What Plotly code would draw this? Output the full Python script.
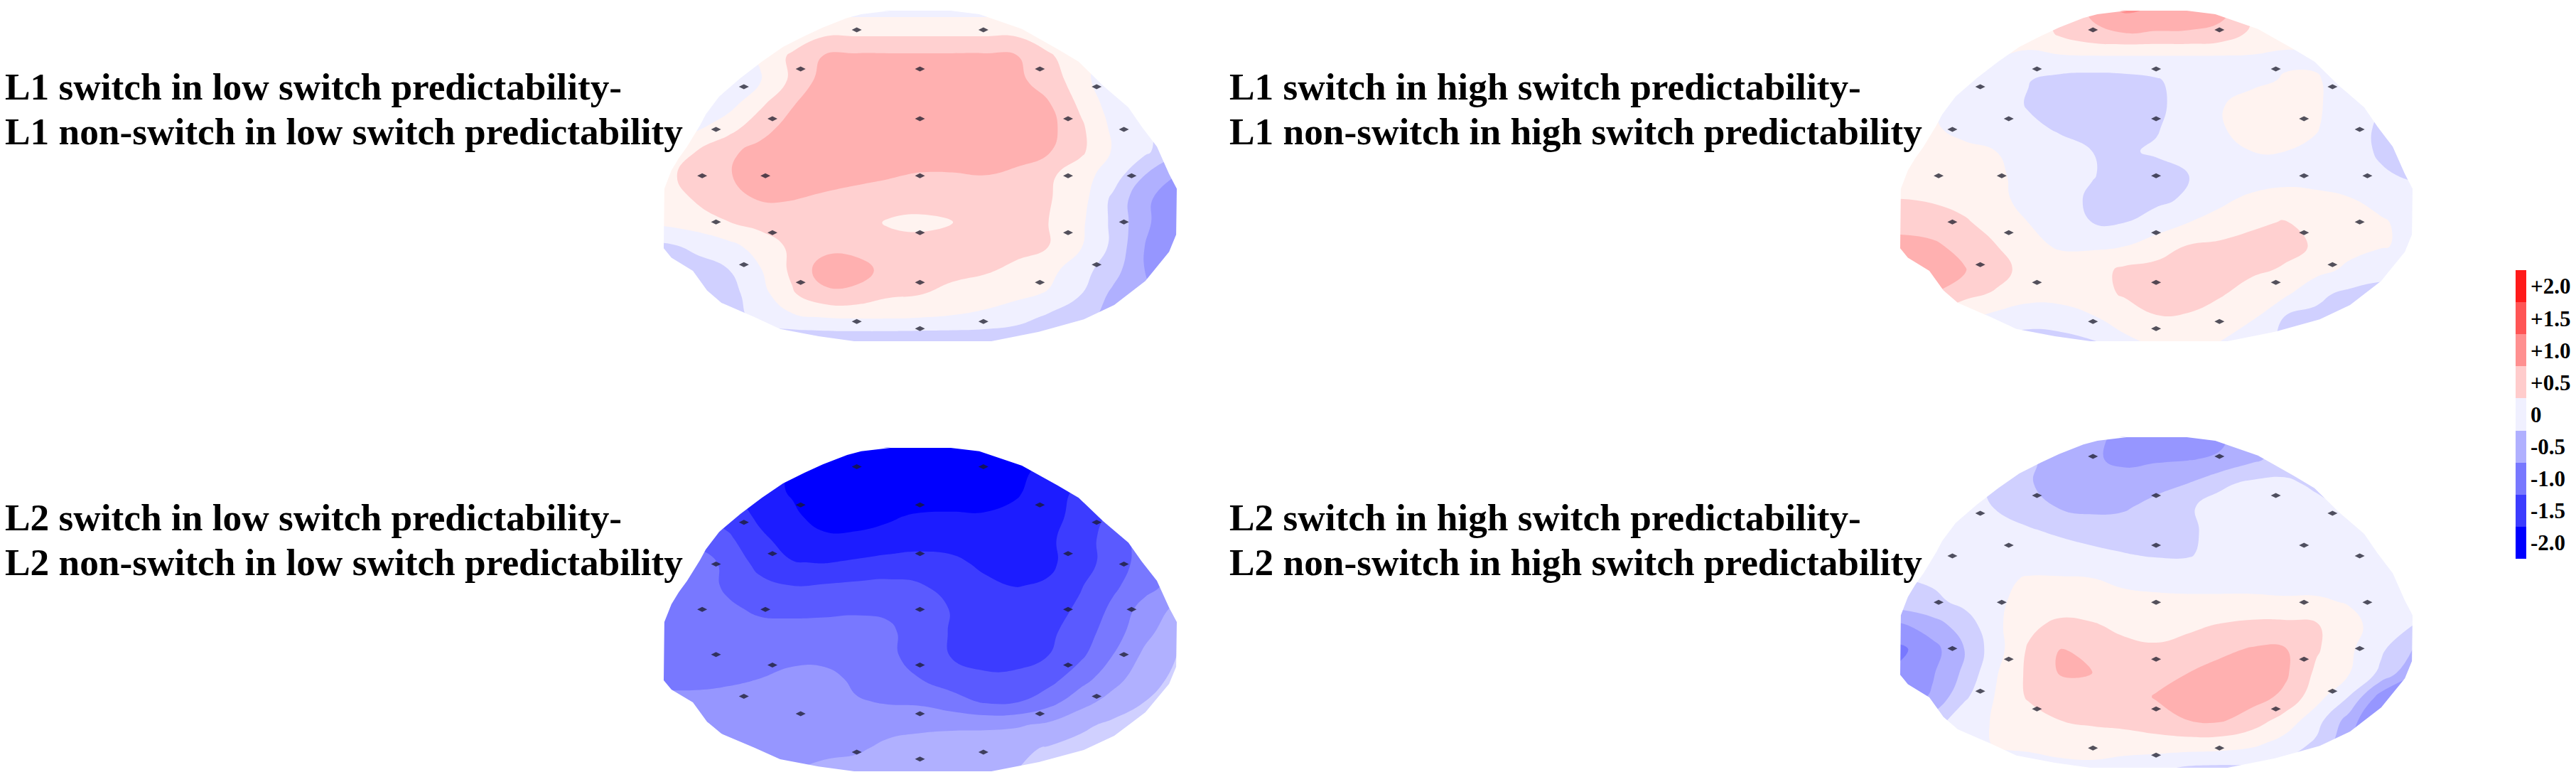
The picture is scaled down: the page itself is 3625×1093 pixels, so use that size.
import plotly.graph_objects as go

# scalp values, rows top to bottom, 17 columns across the head
low_l1 = [
    [-.1, -.1, -.1, -.1, -.1, -.1, -.1, -.1, -.1, -.1, -.1, -.1, -.1, -.1, -.1, -.1, -.1],
    [-.1, -.1, -.1, -.1, .05, .2, .2, .2, .2, .2, .2, .2, .05, -.1, -.1, -.2, -.2],
    [-.1, -.1, -.1, .02, .3, .52, .55, .55, .55, .55, .55, .52, .3, .05, -.1, -.2, -.3],
    [-.15, -.15, -.15, -.02, .3, .6, .65, .65, .65, .65, .65, .55, .4, .1, -.2, -.35, -.4],
    [-.15, -.15, -.1, .2, .48, .65, .65, .65, .65, .65, .65, .65, .52, .2, -.12, -.35, -.5],
    [-.05, -.05, .15, .4, .6, .65, .65, .65, .65, .65, .65, .65, .58, .3, -.05, -.2, -.45],
    [0, .25, .45, .58, .65, .65, .65, .65, .65, .65, .65, .65, .52, .3, -.02, -.2, -.45],
    [.2, .32, .48, .62, .62, .6, .56, .52, .48, .48, .5, .42, .3, .1, -.12, -.5, -.75],
    [.15, .27, .4, .52, .51, .46, .42, .4, .38, .38, .36, .35, .27, .1, -.3, -.7, -.9],
    [.05, .12, .24, .33, .36, .36, .38, .22, .18, .24, .35, .33, .25, .05, -.3, -.7, -.95],
    [-.3, -.2, -.08, .1, .3, .42, .42, .38, .36, .38, .36, .32, .25, .02, -.3, -.75, -1.0],
    [-.4, -.35, -.26, -.02, .3, .62, .6, .42, .36, .32, .28, .2, .08, -.15, -.4, -.75, -1.0],
    [-.5, -.45, -.35, -.1, .22, .44, .44, .3, .26, .18, .12, .06, -.02, -.24, -.55, -.7, -.9],
    [-.5, -.45, -.4, -.15, -.05, 0, .02, .02, 0, -.02, -.06, -.15, -.3, -.4, -.6, -.7, -.8],
    [-.5, -.5, -.45, -.45, -.45, -.45, -.45, -.45, -.45, -.45, -.45, -.45, -.45, -.5, -.6, -.7, -.8],
]
high_l1 = [
    [.1, .1, .1, .1, .1, .3, .55, .8, .72, .65, .6, .3, .1, .1, .1, .1, .1],
    [.1, .1, .1, .05, .05, .3, .45, .5, .48, .48, .42, .2, .05, .05, .05, .05, .05],
    [0, 0, 0, 0, -.02, -.03, -.02, -.02, -.02, -.02, -.02, -.02, -.02, -.02, -.05, -.05, -.05],
    [0, 0, -.02, -.1, -.24, -.33, -.36, -.34, -.28, -.12, -.08, -.03, .01, .01, -.05, -.1, -.15],
    [0, 0, -.02, -.12, -.27, -.35, -.38, -.36, -.3, -.15, -.01, .05, .06, .02, -.08, -.2, -.2],
    [.02, .02, -.05, -.1, -.2, -.28, -.33, -.32, -.27, -.12, -.01, .05, .06, .01, -.1, -.3, -.3],
    [.05, .05, .04, 0, -.08, -.17, -.25, -.28, -.22, -.1, -.02, 0, 0, -.03, -.08, -.3, -.3],
    [.08, .08, .07, .03, -.06, -.15, -.24, -.32, -.34, -.26, -.1, -.08, -.06, -.08, -.1, -.2, -.3],
    [.25, .22, .12, .04, -.05, -.18, -.28, -.34, -.33, -.2, -.03, .03, .06, .05, .01, -.05, -.1],
    [.45, .38, .3, .1, 0, -.1, -.25, -.25, -.1, 0, .05, .2, .27, .15, .08, .02, -.05],
    [.55, .55, .42, .26, .05, -.02, -.03, 0, .1, .27, .32, .35, .33, .22, .08, .02, -.05],
    [.65, .65, .52, .35, .15, .1, .15, .3, .35, .36, .35, .3, .22, .08, -.05, -.2, -.2],
    [.6, .5, .32, .22, .1, .08, .15, .28, .33, .33, .28, .12, .05, -.2, -.3, -.3, -.3],
    [.3, .2, .05, -.08, -.15, -.1, -.02, .1, .24, .23, .1, .02, -.26, -.3, -.3, -.3, -.3],
    [.1, 0, -.2, -.3, -.35, -.35, -.28, -.05, .05, .05, 0, -.1, -.3, -.4, -.4, -.4, -.4],
]
low_l2 = [
    [-2.3, -2.3, -2.3, -2.3, -2.3, -2.3, -2.3, -2.3, -2.3, -2.3, -2.3, -2.3, -2.3, -2.3, -2.3, -2.3, -2.3],
    [-1.9, -1.9, -1.9, -1.95, -2.03, -2.3, -2.3, -2.3, -2.3, -2.3, -2.3, -2.1, -1.9, -1.8, -1.7, -1.6, -1.5],
    [-1.6, -1.6, -1.7, -1.9, -2.02, -2.25, -2.3, -2.3, -2.3, -2.3, -2.25, -2.03, -1.85, -1.7, -1.6, -1.4, -1.3],
    [-1.4, -1.5, -1.6, -1.8, -1.95, -2.1, -2.15, -2.05, -1.95, -1.93, -1.95, -1.92, -1.85, -1.65, -1.45, -1.2, -1.1],
    [-1.2, -1.3, -1.45, -1.7, -1.85, -1.95, -1.92, -1.88, -1.85, -1.85, -1.88, -1.9, -1.8, -1.6, -1.4, -1.15, -1.0],
    [-1.0, -1.15, -1.3, -1.6, -1.74, -1.76, -1.72, -1.68, -1.66, -1.7, -1.8, -1.85, -1.8, -1.62, -1.38, -1.15, -.95],
    [-1.0, -1.1, -1.3, -1.42, -1.5, -1.48, -1.45, -1.43, -1.48, -1.6, -1.7, -1.76, -1.72, -1.52, -1.3, -1.1, -.9],
    [-1.05, -1.12, -1.2, -1.3, -1.32, -1.32, -1.3, -1.3, -1.35, -1.52, -1.6, -1.65, -1.62, -1.45, -1.2, -.9, -.7],
    [-1.05, -1.1, -1.12, -1.15, -1.15, -1.13, -1.12, -1.2, -1.38, -1.52, -1.62, -1.62, -1.55, -1.38, -1.12, -.82, -.6],
    [-1.05, -1.05, -1.05, -1.05, -1.08, -1.08, -1.1, -1.2, -1.35, -1.52, -1.6, -1.58, -1.5, -1.3, -1.0, -.7, -.5],
    [-1.05, -1.05, -1.05, -1.0, -.92, -.92, -1.05, -1.15, -1.25, -1.38, -1.45, -1.45, -1.35, -1.1, -.85, -.6, -.45],
    [-.95, -.95, -.9, -.87, -.85, -.85, -.98, -1.02, -1.04, -1.15, -1.28, -1.27, -1.1, -.85, -.65, -.5, -.4],
    [-.85, -.85, -.85, -.85, -.85, -.85, -.85, -.85, -.82, -.8, -.8, -.78, -.7, -.55, -.45, -.35, -.3],
    [-.85, -.85, -.85, -.82, -.8, -.8, -.8, -.68, -.62, -.6, -.58, -.55, -.48, -.42, -.35, -.3, -.3],
    [-.85, -.85, -.85, -.8, -.75, -.7, -.62, -.6, -.6, -.6, -.55, -.5, -.45, -.4, -.35, -.3, -.3],
]
high_l2 = [
    [-.3, -.3, -.3, -.4, -.5, -.6, -.7, -.8, -.85, -.85, -.8, -.6, -.5, -.4, -.3, -.3, -.3],
    [-.3, -.3, -.3, -.35, -.45, -.62, -.72, -.8, -.78, -.76, -.72, -.55, -.4, -.35, -.3, -.3, -.3],
    [-.2, -.2, -.2, -.3, -.48, -.6, -.66, -.65, -.58, -.5, -.3, -.2, -.2, -.3, -.35, -.35, -.3],
    [-.2, -.2, -.2, -.26, -.4, -.52, -.56, -.53, -.42, -.28, -.15, -.12, -.12, -.18, -.28, -.3, -.2],
    [-.15, -.15, -.12, -.15, -.22, -.3, -.37, -.38, -.38, -.3, -.15, -.1, -.1, -.1, -.1, -.1, -.1],
    [-.15, -.12, -.1, -.1, -.1, -.12, -.18, -.24, -.28, -.28, -.12, -.08, -.08, -.08, -.08, -.08, -.08],
    [-.25, -.2, -.1, -.03, .01, .01, 0, -.04, -.06, -.06, -.06, -.06, -.06, -.06, -.06, -.06, -.06],
    [-.35, -.32, -.18, -.02, .04, .08, .08, .05, .04, .03, .03, .03, .02, .02, -.01, -.08, -.1],
    [-.8, -.6, -.4, -.05, .18, .33, .28, .18, .12, .2, .27, .32, .32, .28, .05, -.06, -.25],
    [-1.05, -.85, -.5, -.1, .28, .5, .42, .33, .3, .35, .45, .52, .52, .28, .05, -.2, -.5],
    [-.95, -.78, -.45, -.02, .3, .52, .5, .33, .4, .5, .58, .6, .55, .2, .02, -.3, -.7],
    [-.9, -.72, -.3, .02, .28, .36, .36, .38, .52, .6, .6, .6, .45, .1, -.25, -.85, -1.1],
    [-.6, -.4, -.08, .02, .13, .25, .3, .33, .4, .5, .53, .38, .15, -.15, -.6, -1.1, -1.2],
    [-.3, -.2, -.1, .02, .05, .07, .1, .12, .14, .14, .12, .05, -.1, -.3, -.7, -1.1, -1.2],
    [-.2, -.2, -.15, -.1, -.1, -.05, -.05, -.12, -.2, -.28, -.3, -.3, -.35, -.5, -.7, -1.0, -1.1],
]

# head outline in grid units (column, row), left side going down then right side going up
head_col = [7.07, 6.16, 5.72, 4.96, 4.39, 3.72, 3.06, 2.39, 1.73, 1.31, 1.13, .73, .47, .24, .02, 0, .24, .91, 1.35,
            1.8, 2.84, 3.63, 4.83, 5.94, 10.22, 11.7, 13.1, 14.05, 15.02, 15.76, 15.98, 16, 15.76, 15.38, 14.91,
            14.49, 13.7, 12.94, 12.28, 11.17, 9.84, 8.95, 7.07]
head_row = [.06, .21, .37, .77, 1.13, 1.59, 2.21, 2.91, 3.68, 4.44, 4.9, 5.79, 6.28, 6.8, 7.57, 10.08, 10.48, 11.03, 11.86,
            12.38, 12.99, 13.48, 13.79, 14, 14, 13.6, 13.08, 12.47, 11.46, 10.23, 9.5, 7.57, 6.95, 5.79, 4.96,
            4.14, 3.22, 2.21, 1.68, .83, .21, .06, .06]

# electrode sites, same montage on every head
elec_col = [6.02, 9.97, 4.27, 7.99, 11.73, 2.5, 13.5, 3.39, 7.99, 12.61, 1.63, 14.35, 1.2, 3.17, 7.99, 12.61, 14.59,
            1.63, 14.35, 3.39, 7.99, 12.61, 2.5, 13.5, 4.27, 7.99, 11.73, 6.02, 9.97, 7.99]
elec_row = [.87, .87, 2.52, 2.52, 2.52, 3.27, 3.27, 4.62, 4.62, 4.62, 5.07, 5.07, 7.02, 7.02, 7.02, 7.02, 7.02,
            8.97, 8.97, 9.42, 9.42, 9.42, 10.77, 10.77, 11.52, 11.52, 11.52, 13.17, 13.17, 13.47]

band_colors = ["#0000ff", "#1c1cff", "#3c3cff", "#5a5aff", "#7878ff", "#9696ff", "#b0b0ff", "#d0d0ff", "#f0f0ff",
               "#fff3f0", "#ffd0d0", "#ffb0b0", "#ff9090", "#ff7070", "#ff5555", "#ff3838", "#ff1a1a", "#ff0000"]

legend_labels = ["+2.0", "+1.5", "+1.0", "+0.5", "0", "-0.5", "-1.0", "-1.5", "-2.0"]
legend_colors = ["#ff1a1a", "#ff5555", "#ff9090", "#ffcccc", "#f0f0ff", "#b0b0ff", "#7878ff", "#3c3cff", "#0000ff"]

title_lines = [
    "L1 switch in low switch predictability-", "L1 non-switch in low switch predictability",
    "L1 switch in high switch predictability-", "L1 non-switch in high switch predictability",
    "L2 switch in low switch predictability-", "L2 non-switch in low switch predictability",
    "L2 switch in high switch predictability-", "L2 non-switch in high switch predictability",
]

W, H = 3625, 1093
# pixel boxes of the heads: left, right, top, bottom
boxes = [(934, 1656, 13, 480), (2674, 3395, 13, 480), (934, 1656, 628, 1085), (2674, 3395, 613, 1080)]
title_x = [5, 5, 1728, 1728, 5, 5, 1728, 1728]
title_y = [122, 186, 122, 186, 728, 791, 728, 791]

n = len(band_colors)
scale = []
for i, c in enumerate(band_colors):
    scale += [[i / n, c], [(i + 1) / n, c]]

fig = go.Figure()
layout = {}
for k, (z, box) in enumerate(zip([low_l1, high_l1, low_l2, high_l2], boxes)):
    sx = "" if k == 0 else str(k + 1)
    xa, ya = "x" + sx, "y" + sx
    fig.add_trace(go.Contour(z=z, xaxis=xa, yaxis=ya, colorscale=scale, showscale=False, hoverinfo="skip",
                             line=dict(width=0, smoothing=1.3),
                             contours=dict(coloring="fill", start=-2, end=2, size=.25)))
    # white everywhere outside the head outline
    mask_x = [-1, 17, 17, -1, -1] + head_col + [-1]
    mask_y = [-1, -1, 15, 15, -1] + head_row + [-1]
    fig.add_trace(go.Scatter(x=mask_x, y=mask_y, xaxis=xa, yaxis=ya, mode="lines", line_width=0,
                             fill="toself", fillcolor="white", hoverinfo="skip"))
    fig.add_trace(go.Scatter(x=elec_col, y=elec_row, xaxis=xa, yaxis=ya, mode="markers", hoverinfo="skip",
                             marker=dict(color="#1a1a2a", size=10, symbol="diamond-wide", opacity=.75, line_width=0)))
    layout["xaxis" + sx] = dict(domain=[box[0] / W, box[1] / W], range=[0, 16], visible=False)
    layout["yaxis" + sx] = dict(domain=[1 - box[3] / H, 1 - box[2] / H], range=[14, 0], visible=False)

# colour key
fig.add_trace(go.Heatmap(z=[[i] for i in range(len(legend_labels))], x=[0], y=list(range(len(legend_labels))),
                         xaxis="x5", yaxis="y5", showscale=False, hoverinfo="skip", xgap=0, ygap=0,
                         colorscale=[[i / 8, c] for i, c in enumerate(legend_colors)]))
layout["xaxis5"] = dict(domain=[3540 / W, 3555 / W], visible=False)
layout["yaxis5"] = dict(domain=[1 - 786 / H, 1 - 380 / H], autorange="reversed", side="right", anchor="x5",
                        tickvals=list(range(len(legend_labels))), ticktext=legend_labels, ticks="",
                        ticklabelstandoff=5, showgrid=False, zeroline=False, showline=False,
                        tickfont=dict(family="Liberation Serif", size=31, color="black", weight=700))

annotations = []
for text, tx, ty in zip(title_lines, title_x, title_y):
    annotations.append(dict(text=text, x=tx / W, y=1 - ty / H, xref="paper", yref="paper", xanchor="left",
                            yanchor="middle", align="left", showarrow=False,
                            font=dict(family="Liberation Serif", size=53.3, color="black", weight=700)))

fig.update_layout(width=W, height=H, margin=dict(l=0, r=0, t=0, b=0), showlegend=False,
                  paper_bgcolor="white", plot_bgcolor="white", annotations=annotations, **layout)

# browser default body margin would push the whole figure 8px down and right
fig.write_html("out.html", config={"displayModeBar": False}, post_script="document.body.style.margin = '0';")
